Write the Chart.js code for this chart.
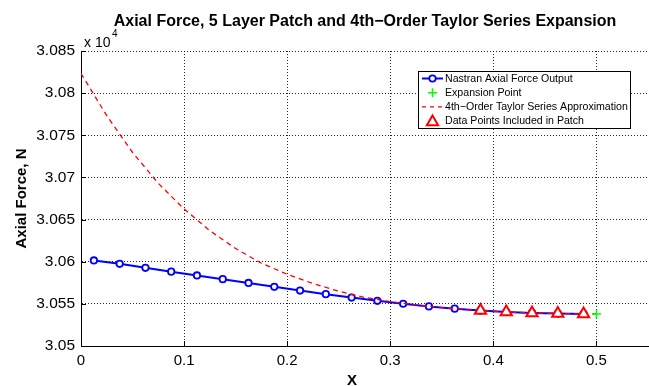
<!DOCTYPE html>
<html><head><meta charset="utf-8">
<script src="https://cdn.jsdelivr.net/npm/chart.js@4/dist/chart.umd.min.js"></script>
<style>html,body{margin:0;padding:0;background:#fff;}#wrap{width:649px;height:386px;}</style>
</head><body><div id="wrap"><canvas id="c" width="649" height="386"></canvas></div>
<script>
// ---- data (force values in units of 10^4 N) ----
const nastranX = [0.0125,0.0375,0.0625,0.0875,0.1125,0.1375,0.1625,0.1875,0.2125,0.2375,0.2625,0.2875,0.3125,0.3375,0.3625,0.3875,0.4125,0.4375,0.4625,0.4875];
const nastranForce = [3.06015,3.05975,3.05928,3.05882,3.05837,3.05793,3.05748,3.05702,3.05658,3.05615,3.05575,3.05536,3.05501,3.05470,3.05443,3.05420,3.05403,3.05392,3.05385,3.05381];
const expansionX = [0.5];
const expansionForce = [3.0538];
const taylorX = [0,0.025,0.05,0.075,0.1,0.125,0.15,0.175,0.2,0.225,0.25,0.275,0.3,0.325,0.35,0.375,0.4,0.425,0.45,0.475,0.5];
const taylorForce = [3.08233,3.07733,3.07296,3.0693,3.06625,3.06368,3.06156,3.05982,3.05851,3.05741,3.0565,3.05577,3.05527,3.05487,3.05455,3.0543,3.05412,3.05398,3.05389,3.05383,3.0538];
const patchX = [0.3875,0.4125,0.4375,0.4625,0.4875];
const patchForce = [3.05420,3.05403,3.05392,3.05385,3.05381];
const xTickValues = [0,0.1,0.2,0.3,0.4,0.5];
const xTickLabels = ['0','0.1','0.2','0.3','0.4','0.5'];
const yTickValues = [3.05,3.055,3.06,3.065,3.07,3.075,3.08,3.085];
const yTickLabels = ['3.05','3.055','3.06','3.065','3.07','3.075','3.08','3.085'];
const seriesNames = ['Nastran Axial Force Output','Expansion Point','4th\u2212Order Taylor Series Approximation','Data Points Included in Patch'];
const titleText = 'Axial Force, 5 Layer Patch and 4th\u2212Order Taylor Series Expansion';

const FONT = "'Liberation Sans', Arial, Helvetica, sans-serif";
const pts = (xs, ys) => xs.map((x, i) => ({x: x, y: ys[i]}));
const lookup = (vals, labels, v) => { const i = vals.findIndex(t => Math.abs(t - v) < 1e-9); return i >= 0 ? labels[i] : ''; };

const annot = {
  id: 'annot',
  afterDraw(chart) {
    const {ctx, chartArea: a, scales: {x, y}} = chart;
    ctx.save();
    ctx.setLineDash([]);
    ctx.strokeStyle = '#000'; ctx.lineWidth = 1;
    ctx.beginPath();
    xTickValues.forEach(v => { const px = Math.round(x.getPixelForValue(v)) + 0.5; ctx.moveTo(px, a.bottom); ctx.lineTo(px, a.bottom - 5); });
    yTickValues.forEach(v => { const py = Math.round(y.getPixelForValue(v)) + 0.5; ctx.moveTo(a.left, py); ctx.lineTo(a.left + 5, py); });
    ctx.stroke();
    // title
    ctx.fillStyle = '#000';
    ctx.font = 'bold 16px ' + FONT; ctx.textAlign = 'center'; ctx.textBaseline = 'alphabetic';
    ctx.fillText(titleText, 365, 26);
    // exponent
    ctx.textAlign = 'left';
    ctx.font = '14px ' + FONT; ctx.fillText('x 10', 84, 46.5);
    ctx.font = '10px ' + FONT; ctx.fillText('4', 112, 37);
    // x label
    ctx.font = 'bold 15px ' + FONT; ctx.textAlign = 'center';
    ctx.fillText('X', 352, 385);
    // legend
    ctx.fillStyle = '#fff'; ctx.fillRect(418, 71, 213, 58);
    ctx.strokeStyle = '#000'; ctx.lineWidth = 1; ctx.strokeRect(418.5, 71.5, 212, 57);
    const rows = [78.5, 92.7, 106.8, 121];
    const x0 = 422, x1 = 443, xm = 432.5;
    ctx.strokeStyle = '#0000ff'; ctx.lineWidth = 2;
    ctx.beginPath(); ctx.moveTo(x0, rows[0]); ctx.lineTo(x1, rows[0]); ctx.stroke();
    ctx.fillStyle = '#fff'; ctx.lineWidth = 1.8;
    ctx.beginPath(); ctx.arc(xm, rows[0], 3.2, 0, Math.PI * 2); ctx.fill(); ctx.stroke();
    ctx.strokeStyle = '#00ff00'; ctx.lineWidth = 1.5;
    ctx.beginPath(); ctx.moveTo(xm - 4.5, rows[1]); ctx.lineTo(xm + 4.5, rows[1]); ctx.moveTo(xm, rows[1] - 4.5); ctx.lineTo(xm, rows[1] + 4.5); ctx.stroke();
    ctx.strokeStyle = '#ff0000'; ctx.lineWidth = 1.3; ctx.setLineDash([4, 4]);
    ctx.beginPath(); ctx.moveTo(x0, rows[2]); ctx.lineTo(x1, rows[2]); ctx.stroke();
    ctx.setLineDash([]);
    ctx.strokeStyle = '#ff0000'; ctx.lineWidth = 2; ctx.fillStyle = '#fff';
    const r = 6.5, cy = rows[3] + 1;
    ctx.beginPath();
    ctx.moveTo(xm, cy - r); ctx.lineTo(xm + r * 0.866, cy + r / 2); ctx.lineTo(xm - r * 0.866, cy + r / 2); ctx.closePath();
    ctx.fill(); ctx.stroke();
    ctx.fillStyle = '#000'; ctx.font = '10.6px ' + FONT; ctx.textAlign = 'left'; ctx.textBaseline = 'middle';
    seriesNames.forEach((t, i) => ctx.fillText(t, 445, rows[i] + 0.5));
    ctx.restore();
  }
};

const scaleCommon = {
  type: 'linear',
  grid: { color: 'rgba(0,0,0,0.85)', lineWidth: 1, drawTicks: false },
  border: { display: true, color: '#000', width: 1, dash: [1, 2] },
};

new Chart(document.getElementById('c').getContext('2d'), {
  type: 'scatter',
  data: { datasets: [
    { label: seriesNames[3], data: pts(patchX, patchForce), showLine: false, pointStyle: 'triangle', pointRadius: 6.5, borderColor: '#ff0000', backgroundColor: '#ffffff', borderWidth: 2, order: 0 },
    { label: seriesNames[1], data: pts(expansionX, expansionForce), showLine: false, pointStyle: 'cross', pointRadius: 4.5, borderColor: '#00ff00', backgroundColor: '#00ff00', borderWidth: 1.5, order: 1 },
    { label: seriesNames[2], data: pts(taylorX, taylorForce), showLine: true, borderDash: [5, 4], borderColor: '#ff0000', borderWidth: 1.3, pointRadius: 0, order: 2 },
    { label: seriesNames[0], data: pts(nastranX, nastranForce), showLine: true, borderColor: '#0000ff', borderWidth: 2, pointStyle: 'circle', pointRadius: 3.2, pointBorderWidth: 1.8, pointBackgroundColor: '#ffffff', pointBorderColor: '#0000ff', order: 3 }
  ]},
  options: {
    responsive: false, devicePixelRatio: 1, animation: false,
    layout: { autoPadding: false, padding: { left: 0, right: 1, top: 51, bottom: 0 } },
    plugins: { legend: { display: false }, tooltip: { enabled: false } },
    scales: {
      x: Object.assign({}, scaleCommon, {
        min: 0, max: 0.55,
        afterBuildTicks: s => { s.ticks = xTickValues.map(v => ({value: v})); },
        afterFit: s => { s.height = 40; s.paddingLeft = 0; s.paddingRight = 0; },
        ticks: { callback: v => lookup(xTickValues, xTickLabels, v), color: '#000', font: { family: FONT, size: 15 }, padding: 6, maxRotation: 0, autoSkip: false }
      }),
      y: Object.assign({}, scaleCommon, {
        min: 3.05, max: 3.085,
        afterBuildTicks: s => { s.ticks = yTickValues.map(v => ({value: v})); },
        afterFit: s => { s.width = 81; s.paddingTop = 0; s.paddingBottom = 0; },
        ticks: { callback: v => lookup(yTickValues, yTickLabels, v), color: '#000', font: { family: FONT, size: 15.5 }, padding: 6, autoSkip: false },
        title: { display: true, text: 'Axial Force, N', color: '#000', font: { family: FONT, size: 15, weight: 'bold' }, padding: { top: 13, bottom: 0 } }
      })
    }
  },
  plugins: [annot]
});
</script></body></html>
